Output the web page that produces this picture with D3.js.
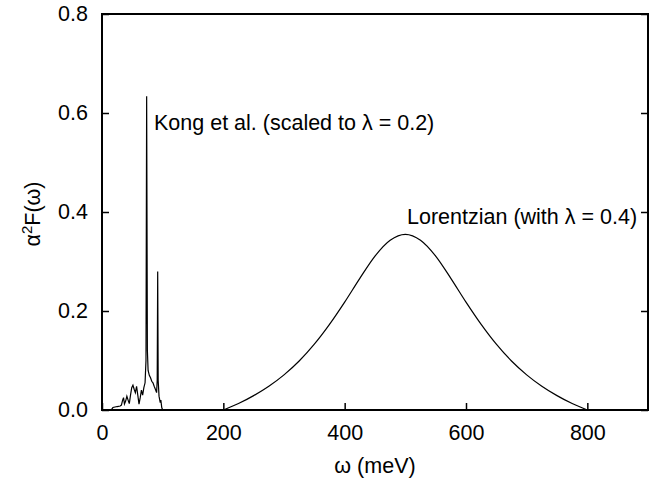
<!DOCTYPE html>
<html><head><meta charset="utf-8">
<script src="https://cdn.jsdelivr.net/npm/d3@7"></script>
<style>body{margin:0;background:#fff}svg{display:block}text{font-family:"Liberation Sans",Arial,sans-serif;fill:#000}</style>
</head><body><svg id="c" width="654" height="479"></svg>
<script>
const xTicks = [0, 200, 400, 600, 800];
const yTicks = [0.0, 0.2, 0.4, 0.6, 0.8];
const kongW = [0, 15, 18, 25, 30, 32, 34, 35.5, 37, 39, 41, 43, 45, 47, 49, 51, 53, 55, 57, 59, 61, 63, 65, 67, 69, 71, 72.5, 73.6, 74.8, 76, 78, 80, 82, 84, 86, 88, 90, 91, 91.8, 92.6, 94, 96, 97, 98.5, 100];
const kongV = [0, 0, 0.005, 0.007, 0.008, 0.01, 0.02, 0.025, 0.012, 0.018, 0.028, 0.02, 0.013, 0.03, 0.045, 0.05, 0.042, 0.035, 0.048, 0.03, 0.012, 0.025, 0.04, 0.03, 0.045, 0.055, 0.1, 0.634, 0.12, 0.08, 0.07, 0.065, 0.058, 0.055, 0.048, 0.042, 0.035, 0.06, 0.28, 0.06, 0.028, 0.015, 0.02, 0.005, 0];
const lorW = [200, 225, 250, 275, 300, 325, 350, 375, 400, 425, 450, 475, 500, 525, 550, 575, 600, 625, 650, 675, 700, 725, 750, 775, 800];
const lorV = [0, 0.013, 0.029, 0.048, 0.071, 0.099, 0.133, 0.173, 0.218, 0.266, 0.311, 0.343, 0.355, 0.343, 0.311, 0.266, 0.218, 0.173, 0.133, 0.099, 0.071, 0.048, 0.029, 0.013, 0];

const svg = d3.select("#c");
const L = 102, R = 648, T = 14, B = 410;
const x = d3.scaleLinear().domain([0, 900]).range([L, R]);
const y = d3.scaleLinear().domain([0, 0.8]).range([B, T]);
const fs = 21.5;

svg.append("g").attr("transform", `translate(0,${B})`)
  .call(d3.axisBottom(x).tickValues(xTicks).tickSize(-7).tickPadding(15).tickFormat(d3.format("d")))
  .call(g => { g.select(".domain").remove(); g.selectAll("text").style("font-size", fs + "px"); g.selectAll("line").attr("stroke-width", 1.5); });
svg.append("g").attr("transform", `translate(${L},0)`)
  .call(d3.axisLeft(y).tickValues(yTicks).tickSize(-7).tickPadding(14).tickFormat(d3.format(".1f")))
  .call(g => { g.select(".domain").remove(); g.selectAll("text").style("font-size", fs + "px"); g.selectAll("line").attr("stroke-width", 1.5); });
svg.append("g").attr("transform", `translate(${R},0)`)
  .call(d3.axisRight(y).tickValues(yTicks).tickSize(-7).tickFormat(""))
  .call(g => { g.select(".domain").remove(); g.selectAll("line").attr("stroke-width", 1.5); });

svg.append("rect").attr("x", L).attr("y", T).attr("width", R - L).attr("height", B - T)
  .attr("fill", "none").attr("stroke", "#000").attr("stroke-width", 2);

const line = d3.line().x(d => x(d[0])).y(d => y(d[1]));
svg.append("path").datum(kongW.map((w, i) => [w, kongV[i]])).attr("d", line)
  .attr("fill", "none").attr("stroke", "#000").attr("stroke-width", 1.2);
svg.append("path").datum(lorW.map((w, i) => [w, lorV[i]])).attr("d", line.curve(d3.curveMonotoneX))
  .attr("fill", "none").attr("stroke", "#000").attr("stroke-width", 1.2);

svg.append("text").attr("x", 154).attr("y", 130).style("font-size", fs + "px").text("Kong et al. (scaled to λ = 0.2)");
svg.append("text").attr("x", 407).attr("y", 224).style("font-size", fs + "px").text("Lorentzian (with λ = 0.4)");

svg.append("text").attr("x", (L + R) / 2).attr("y", 473).attr("text-anchor", "middle").style("font-size", fs + "px").text("ω (meV)");
const yl = svg.append("text").attr("transform", "translate(40,214) rotate(-90)").attr("text-anchor", "middle").style("font-size", fs + "px");
yl.append("tspan").text("α");
yl.append("tspan").attr("dy", -8).style("font-size", "15px").text("2");
yl.append("tspan").attr("dy", 8).text("F(ω)");
</script></body></html>
